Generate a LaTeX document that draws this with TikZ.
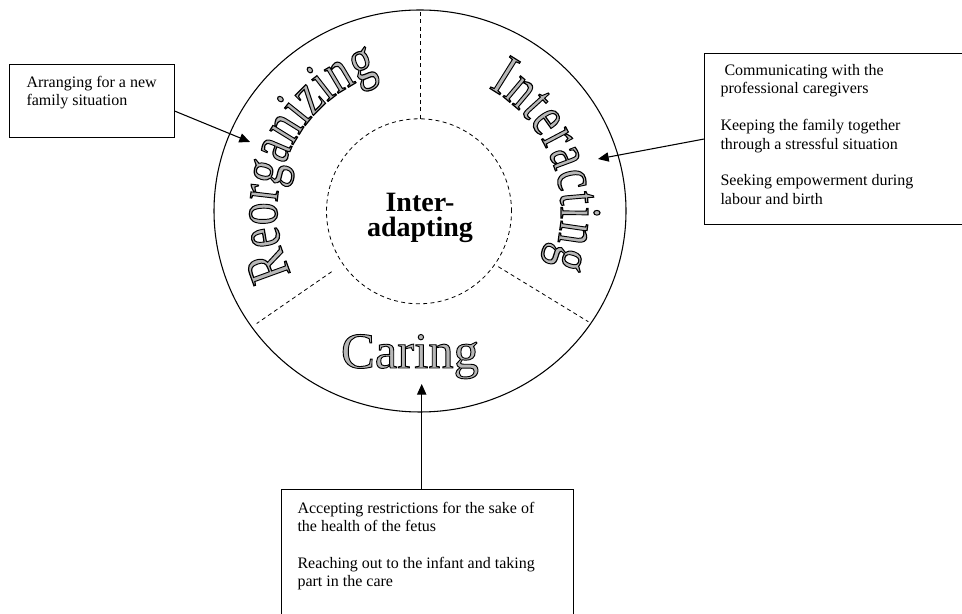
\documentclass[tikz,border=0pt]{standalone}
\usepackage{fontspec}
\setmainfont{Liberation Serif}
\usetikzlibrary{arrows.meta,decorations.text}
\newcommand{\outl}[1]{\special{pdf:literal direct 0 G 0.7 w 2 Tr}#1\special{pdf:literal direct 0 Tr}}
\newcommand{\bigword}{\fontsize{34}{38}\selectfont}

\begin{document}
\begin{tikzpicture}[x=0.75pt, y=0.75pt]
    \tikzstyle{ring} = [line width=0.8pt]
    \tikzstyle{divider} = [line width=0.6pt, dash pattern=on 3pt off 2.5pt]
    \tikzstyle{notebox} = [draw, line width=0.8pt, inner sep=0pt, anchor=north west, font=\fontsize{12}{13.8}\selectfont]
    \tikzstyle{pointer} = [line width=0.8pt, -{Triangle[length=8pt, width=7pt]}]
    \tikzstyle{arcword} = [decorate, decoration={text effects along path, text effects/.cd, text along path, fit text to path, character command=\outl, characters={text=black!28, font=\bigword, yscale=1.3}}]
    \useasboundingbox (0,0) rectangle (962,613);
    \clip (0,0) rectangle (962,613);
    \coordinate (ringc) at (420,402);
    \draw[ring] (ringc) ellipse [x radius=206, y radius=201];
    \draw[divider] (419,401.7) circle [radius=92.5];
    \draw[divider] (420,601) -- (420,494);
    \draw[divider] (331.7,341.3) -- (256.7,289.5);
    \draw[divider] (498.3,346.3) -- (588.3,291.3);
    \path[arcword, decoration={text={Reorganizing}}] ([shift={(206:143)}]ringc) arc [start angle=206, end angle=107, radius=143];
    \path[arcword, decoration={text={Interacting}}] ([shift={(61:141)}]ringc) arc [start angle=61, end angle=-22.5, radius=141];
    \node[text=black!28, font=\fontsize{38}{42}\selectfont, anchor=base, inner sep=0pt] (caring) at (410,245) {\outl{Caring}};
    \node[align=center, font=\bfseries\fontsize{21}{19.3}\selectfont, inner sep=0pt] (core) at (420,395) {Inter-\\adapting};
    \node[notebox] (reorgbox) at (9,549) {\parbox[c][54.75pt][t]{123.75pt}{\raggedright\leftskip=12.75pt\vspace*{7.6pt}\strut Arranging for a new\\family situation}};
    \node[notebox] (intbox) at (704,560) {\parbox[c][128.25pt][t]{214.5pt}{\raggedright\leftskip=12pt\vspace*{6.8pt}\strut\ Communicating with the\\professional caregivers\\[13.8pt]Keeping the family together\\through a stressful situation\\[13.8pt]Seeking empowerment during\\labour and birth}};
    \node[notebox] (carebox) at (281,124) {\parbox[c][113.25pt][t]{219pt}{\raggedright\leftskip=12pt\vspace*{8.1pt}\strut Accepting restrictions for the sake of\\the health of the fetus\\[13.8pt]Reaching out to the infant and taking\\part in the care}};
    \coordinate (reorgtip) at (250,471);
    \coordinate (inttip) at (598,454);
    \coordinate (caretip) at (421.7,229);
    \draw[pointer] (reorgbox.-7.3) -- (reorgtip);
    \draw[pointer] (intbox.west) -- (inttip);
    \draw[pointer] (caretip |- carebox.north) -- (caretip);
\end{tikzpicture}
\end{document}
